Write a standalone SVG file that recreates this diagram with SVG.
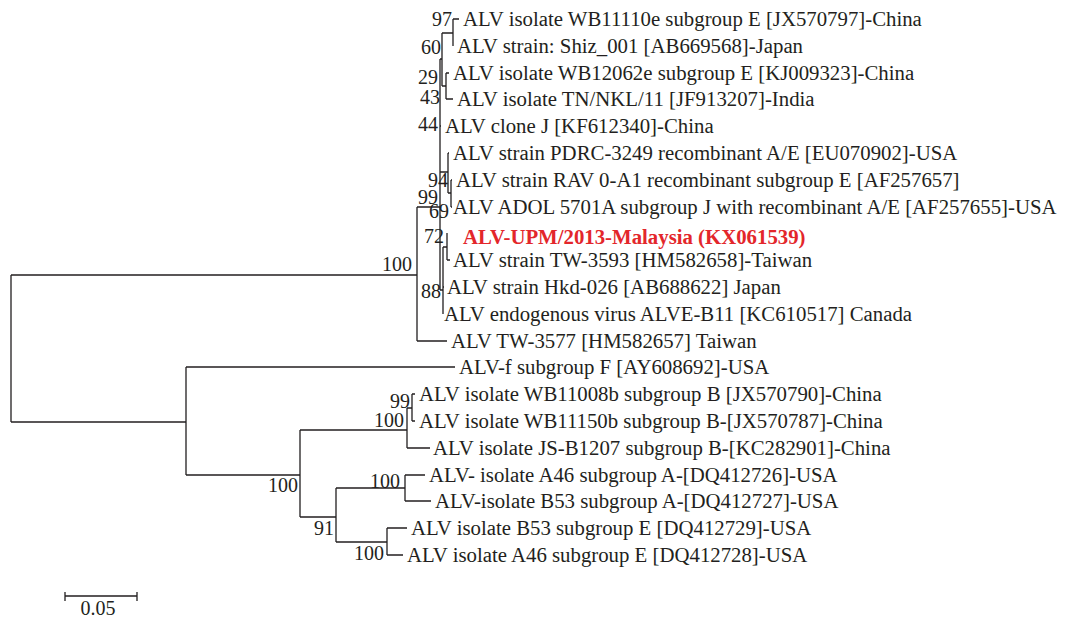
<svg xmlns="http://www.w3.org/2000/svg" width="1071" height="620" viewBox="0 0 1071 620">
<style>
.e{fill:none;stroke:#231f20;stroke-width:1.3}
text{font-family:"Liberation Serif","Times New Roman",serif;font-size:20px;fill:#231f20}
#leaves text{font-size:20.8px}
.b{text-anchor:end}
#leaves .r{fill:#e3262b;font-weight:bold}
</style>
<rect width="1071" height="620" fill="#fff"/>
<g id="connectors">
<path class="e" d="M11,275V422M11,275H417M11,422H186"/>
<path class="e" d="M417,207V341M417,207H440M417,341H447"/>
<path class="e" d="M440,59V290M440,59H442M440,126H441M440,172H448M440,290H443"/>
<path class="e" d="M442,33V86M442,33H453M442,86H446"/>
<path class="e" d="M453,19V46M453,19H459"/>
<path class="e" d="M446,73V99M446,73H449M446,99H453"/>
<path class="e" d="M448,153V193M448,153H449M448,193H451"/>
<path class="e" d="M451,180V207M451,180H452M451,207H452"/>
<path class="e" d="M443,247V314M443,247H447M443,287H444"/>
<path class="e" d="M447,233V260M447,260H450"/>
<path class="e" d="M186,367V475M186,367H455M186,475H300"/>
<path class="e" d="M300,430V517M300,430H407M300,517H336"/>
<path class="e" d="M407,408V448M407,408H412M407,448H430"/>
<path class="e" d="M412,394V421M412,394H415M412,421H415"/>
<path class="e" d="M336,488V542M336,488H405M336,542H387"/>
<path class="e" d="M405,475V501M405,475H425M405,501H431"/>
<path class="e" d="M387,528V555M387,528H407M387,555H403"/>
</g>
<g id="leaves">
<g id="n1"><text x="463" y="26">ALV isolate WB11110e subgroup E [JX570797]-China</text></g>
<g id="n2"><text x="457" y="53">ALV strain: Shiz_001 [AB669568]-Japan</text></g>
<g id="n3"><text x="453" y="80">ALV isolate WB12062e subgroup E [KJ009323]-China</text></g>
<g id="n4"><text x="457" y="106">ALV isolate TN/NKL/11 [JF913207]-India</text></g>
<g id="n5"><text x="445" y="133">ALV clone J [KF612340]-China</text></g>
<g id="n6"><text x="453" y="160">ALV strain PDRC-3249 recombinant A/E [EU070902]-USA</text></g>
<g id="n7"><text x="456" y="187">ALV strain RAV 0-A1 recombinant subgroup E [AF257657]</text></g>
<g id="n8"><text x="453" y="214">ALV ADOL 5701A subgroup J with recombinant A/E [AF257655]-USA</text></g>
<g id="n9"><text class="r" x="463" y="244">ALV-UPM/2013-Malaysia (KX061539)</text></g>
<g id="n10"><text x="453" y="267">ALV strain TW-3593 [HM582658]-Taiwan</text></g>
<g id="n11"><text x="447" y="294">ALV strain Hkd-026 [AB688622] Japan</text></g>
<g id="n12"><text x="444" y="321">ALV endogenous virus ALVE-B11 [KC610517] Canada</text></g>
<g id="n13"><text x="451" y="348">ALV TW-3577 [HM582657] Taiwan</text></g>
<g id="n14"><text x="459" y="374">ALV-f subgroup F [AY608692]-USA</text></g>
<g id="n15"><text x="419" y="401">ALV isolate WB11008b subgroup B [JX570790]-China</text></g>
<g id="n16"><text x="419" y="428">ALV isolate WB11150b subgroup B-[JX570787]-China</text></g>
<g id="n17"><text x="433" y="455">ALV isolate JS-B1207 subgroup B-[KC282901]-China</text></g>
<g id="n18"><text x="429" y="482">ALV- isolate A46 subgroup A-[DQ412726]-USA</text></g>
<g id="n19"><text x="435" y="508">ALV-isolate B53 subgroup A-[DQ412727]-USA</text></g>
<g id="n20"><text x="411" y="535">ALV isolate B53 subgroup E [DQ412729]-USA</text></g>
<g id="n21"><text x="407" y="562">ALV isolate A46 subgroup E [DQ412728]-USA</text></g>
</g>
<g id="bootstrap">
<text class="b" x="452" y="26">97</text>
<text class="b" x="441" y="54">60</text>
<text class="b" x="438" y="84">29</text>
<text class="b" x="440" y="104">43</text>
<text class="b" x="438" y="131">44</text>
<text class="b" x="448" y="187">94</text>
<text class="b" x="438" y="204">99</text>
<text class="b" x="449" y="218">69</text>
<text class="b" x="444" y="243">72</text>
<text class="b" x="412" y="271">100</text>
<text class="b" x="441" y="298">88</text>
<text class="b" x="410" y="408">99</text>
<text class="b" x="404" y="427">100</text>
<text class="b" x="298" y="492">100</text>
<text class="b" x="400" y="488">100</text>
<text class="b" x="334" y="535">91</text>
<text class="b" x="384" y="560">100</text>
</g>
<g id="scale">
<path class="e" d="M65,596H137M65,592V601M137,592V601"/>
<text x="98" y="615" text-anchor="middle">0.05</text>
</g>
</svg>
